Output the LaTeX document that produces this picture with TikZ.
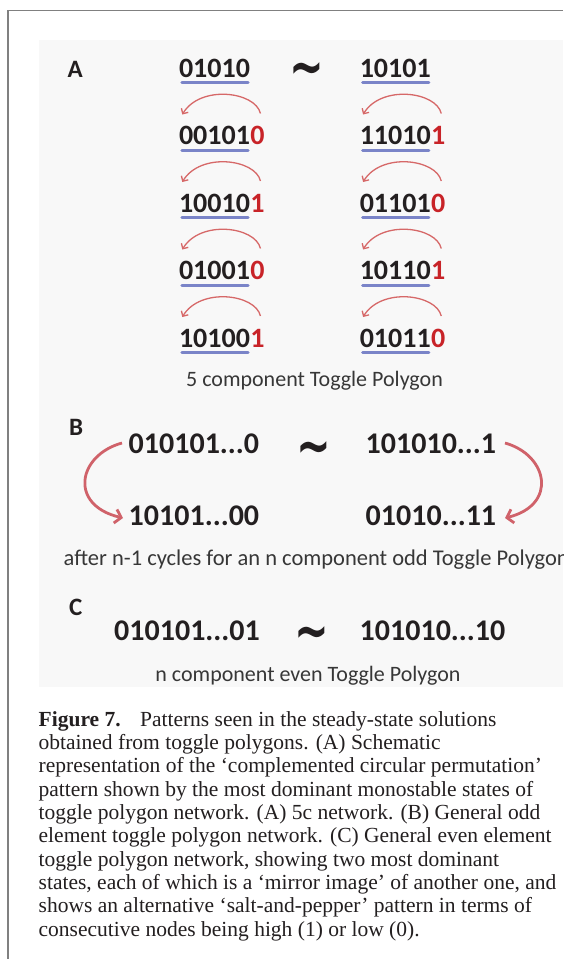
\documentclass[tikz,border=0pt]{standalone}
\usepackage{fontspec}
\setmainfont{Liberation Serif}
\newfontfamily\carlito{Carlito}
\newfontfamily\dejavu{DejaVu Sans}
\usetikzlibrary{arrows.meta,calc}

\definecolor{ink}{RGB}{35,31,32}
\definecolor{digred}{RGB}{200,35,40}
\definecolor{ulblue}{RGB}{122,132,200}
\definecolor{arcred}{RGB}{214,104,104}
\definecolor{bigred}{RGB}{208,98,106}
\definecolor{panelgray}{RGB}{248,248,248}
\definecolor{framegray}{RGB}{128,128,128}
\definecolor{soft}{RGB}{55,55,55}

\begin{document}
\begin{tikzpicture}[x=1pt,y=-1pt,
  bits/.style={inner sep=0pt, anchor=base west, font=\carlito\bfseries\fontsize{28}{28}\selectfont, text=ink},
  redbit/.style={bits, text=digred},
  bigbits/.style={inner sep=0pt, anchor=base west, font=\carlito\bfseries\fontsize{30}{30}\selectfont, text=ink},
  panellabel/.style={inner sep=0pt, anchor=base west, font=\carlito\bfseries\fontsize{25}{25}\selectfont, text=ink},
  tildemark/.style={inner sep=0pt, anchor=base, font=\dejavu\bfseries\fontsize{36}{36}\selectfont, text=ink},
  note/.style={inner sep=0pt, font=\carlito\fontsize{22}{22}\selectfont, text=soft},
  capline/.style={inner sep=0pt, anchor=base west, font=\fontsize{21.5}{23}\selectfont, text=ink},
  uline/.style={draw=ulblue, line width=3pt, line cap=round},
  shiftarc/.style={draw=arcred, line width=1.3pt, -{Straight Barb[length=4pt,width=8pt]}},
  cyclearrow/.style={draw=bigred, line width=2.8pt, -{Straight Barb[length=6pt,width=14pt]}},
]
\fill[white] (0,0) rectangle (563,959);
\useasboundingbox (0,0) rectangle (563,959);
\fill[panelgray] (38.5,40) rectangle (563,687);
\draw[framegray, line width=1.5pt] (8,959) -- (8,10.5) -- (563,10.5);

% ---------- A ----------
\node[panellabel] (lblA) at (67.5,77) {A};
\node[tildemark] (tA) at (307,86.1) {\scalebox{1.15}[1.6]{\textasciitilde}};

\node[bits] (L1) at (178.8,77) {01010};
\node[bits] (L2) at (178.8,144.5) {00101};
\node[redbit] (L2r) at (L2.base east) {0};
\node[bits] (L3) at (178.8,212) {10010};
\node[redbit] (L3r) at (L3.base east) {1};
\node[bits] (L4) at (178.8,279.5) {01001};
\node[redbit] (L4r) at (L4.base east) {0};
\node[bits] (L5) at (178.8,347) {10100};
\node[redbit] (L5r) at (L5.base east) {1};

\node[bits] (R1) at (359.6,77) {10101};
\node[bits] (R2) at (359.6,144.5) {11010};
\node[redbit] (R2r) at (R2.base east) {1};
\node[bits] (R3) at (359.6,212) {01101};
\node[redbit] (R3r) at (R3.base east) {0};
\node[bits] (R4) at (359.6,279.5) {10110};
\node[redbit] (R4r) at (R4.base east) {1};
\node[bits] (R5) at (359.6,347) {01011};
\node[redbit] (R5r) at (R5.base east) {0};

\foreach \n in {L1,L2,L3,L4,L5,R1,R2,R3,R4,R5}{
  \draw[uline] ($(\n.base west)+(3,5.5)$) -- ($(\n.base east)+(-2,5.5)$);
}
\foreach \n in {L2,L3,L4,L5,R2,R3,R4,R5}{
  \draw[shiftarc] ($(\n r.base)+(3,-31)$) .. controls ($(\n r.base)+(-2,-53)$) and ($(\n.base west)+(21.5,-60)$) .. ($(\n.base west)+(3.5,-30)$);
}

\node[note, anchor=base] (capA) at (314.5,386) {5 component Toggle Polygon};

% ---------- B ----------
\node[panellabel] (lblB) at (69,435) {B};
\node[bigbits] (b1) at (128.5,453.3) {010101...0};
\node[tildemark] (tB) at (313.5,465.1) {\scalebox{1.15}[1.6]{\textasciitilde}};
\node[bigbits] (b2) at (365.5,453.3) {101010...1};
\node[bigbits] (b3) at (128.5,525) {10101...00};
\node[bigbits] (b4) at (365.5,525) {01010...11};
\draw[cyclearrow] ($(b1.base west)+(-6.5,-10.3)$) .. controls ($(b1.base west)+(-50.5,1.7)$) and ($(b3.base west)+(-60.5,-20)$) .. ($(b3.base west)+(-5.5,-7)$);
\draw[cyclearrow] ($(b2.base west)+(139.5,-10.3)$) .. controls ($(b2.base west)+(182.5,1.7)$) and ($(b4.base west)+(192.5,-20)$) .. ($(b4.base west)+(139.5,-7)$);
\begin{scope}
\clip (38.5,40) rectangle (563,687);
\node[note, anchor=base west, font=\carlito\fontsize{22.5}{22.5}\selectfont] (capB) at (63.5,565) {after n-1 cycles for an n component odd Toggle Polygon};
\end{scope}

% ---------- C ----------
\node[panellabel] (lblC) at (69,615) {C};
\node[bigbits] (c1) at (114,640) {010101...01};
\node[tildemark] (tC) at (311.5,650.1) {\scalebox{1.15}[1.6]{\textasciitilde}};
\node[bigbits] (c2) at (359.5,640) {101010...10};
\node[note, anchor=base] (capC) at (308,681) {n component even Toggle Polygon};

% ---------- caption ----------
\node[capline] (cap1) at (38.5,726) {\textbf{Figure 7.}\hspace{0.9em}Patterns seen in the steady-state solutions};
\node[capline] (cap2) at (38.5,749.3) {obtained from toggle polygons. (A) Schematic};
\node[capline] (cap3) at (38.5,772.7) {representation of the ‘complemented circular permutation’};
\node[capline] (cap4) at (38.5,796) {pattern shown by the most dominant monostable states of};
\node[capline] (cap5) at (38.5,819.3) {toggle polygon network. (A) 5c network. (B) General odd};
\node[capline] (cap6) at (38.5,842.7) {element toggle polygon network. (C) General even element};
\node[capline] (cap7) at (38.5,866) {toggle polygon network, showing two most dominant};
\node[capline] (cap8) at (38.5,889.3) {states, each of which is a ‘mirror image’ of another one, and};
\node[capline] (cap9) at (38.5,912.7) {shows an alternative ‘salt-and-pepper’ pattern in terms of};
\node[capline] (cap10) at (38.5,936) {consecutive nodes being high (1) or low (0).};
\end{tikzpicture}
\end{document}
